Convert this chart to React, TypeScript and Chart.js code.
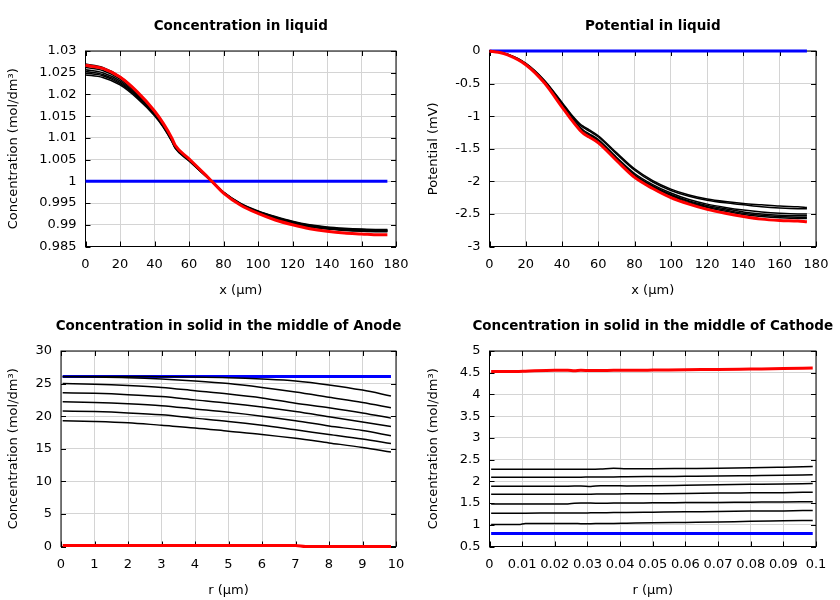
import React, { useEffect, useRef } from 'react';
import { Chart, registerables } from 'chart.js';

Chart.register(...registerables);
Chart.defaults.font.family = "'DejaVu Sans', sans-serif";
Chart.defaults.font.size = 13;
Chart.defaults.color = '#000';

// ---------- Concentration in liquid ----------
const liqX = [0, 10, 20, 30, 40, 45, 50, 52, 60, 70, 75, 80, 90, 100, 110, 120, 130, 140, 150, 160, 170, 175];
const liqCInit = [1, 1, 1, 1, 1, 1, 1, 1, 1, 1, 1, 1, 1, 1, 1, 1, 1, 1, 1, 1, 1, 1];
const liqCFinal = [1.0267, 1.026, 1.024, 1.0206, 1.0162, 1.0134, 1.01, 1.0083, 1.0052, 1.0013, 0.9993, 0.9973, 0.9945, 0.9926, 0.9911, 0.99, 0.9891, 0.9885, 0.9881, 0.9879, 0.9877, 0.9877];
const liqC1 = [1.027, 1.0262, 1.0241, 1.0206, 1.0161, 1.0133, 1.0098, 1.0081, 1.005, 1.0011, 0.9992, 0.9973, 0.9946, 0.9928, 0.9914, 0.9903, 0.9895, 0.989, 0.9887, 0.9885, 0.9884, 0.9884];
const liqC2 = [1.0262, 1.0255, 1.0235, 1.0201, 1.0158, 1.013, 1.0096, 1.008, 1.0049, 1.0011, 0.9992, 0.9973, 0.9947, 0.9929, 0.9915, 0.9904, 0.9896, 0.9891, 0.9888, 0.9886, 0.9885, 0.9885];
const liqC3 = [1.0257, 1.025, 1.0231, 1.0198, 1.0156, 1.0129, 1.0095, 1.0079, 1.0049, 1.0011, 0.9992, 0.9974, 0.9947, 0.9929, 0.9916, 0.9905, 0.9897, 0.9892, 0.9889, 0.9887, 0.9886, 0.9886];
const liqC4 = [1.0253, 1.0246, 1.0228, 1.0196, 1.0154, 1.0127, 1.0094, 1.0078, 1.0048, 1.0011, 0.9992, 0.9974, 0.9948, 0.993, 0.9917, 0.9906, 0.9898, 0.9893, 0.989, 0.9888, 0.9887, 0.9887];
const liqC5 = [1.0249, 1.0243, 1.0225, 1.0194, 1.0153, 1.0126, 1.0093, 1.0077, 1.0048, 1.0011, 0.9993, 0.9975, 0.9948, 0.9931, 0.9918, 0.9907, 0.9899, 0.9894, 0.9891, 0.9889, 0.9888, 0.9888];
const liqC6 = [1.0245, 1.0239, 1.0222, 1.0191, 1.0151, 1.0125, 1.0092, 1.0076, 1.0047, 1.0011, 0.9993, 0.9975, 0.9949, 0.9932, 0.9919, 0.9908, 0.99, 0.9895, 0.9892, 0.989, 0.9889, 0.9889];

// ---------- Potential in liquid ----------
const potX = [0, 5, 10, 20, 30, 40, 45, 50, 52, 55, 60, 70, 80, 90, 100, 110, 120, 130, 140, 150, 160, 170, 175];
const potInit = [0, 0, 0, 0, 0, 0, 0, 0, 0, 0, 0, 0, 0, 0, 0, 0, 0, 0, 0, 0, 0, 0, 0];
const potFinal = [0, -0.02, -0.06, -0.21, -0.48, -0.86, -1.05, -1.22, -1.27, -1.32, -1.41, -1.68, -1.94, -2.11, -2.25, -2.35, -2.43, -2.49, -2.54, -2.58, -2.6, -2.61, -2.62];
const pot1 = [0, -0.02, -0.05, -0.19, -0.44, -0.79, -0.97, -1.12, -1.16, -1.21, -1.3, -1.56, -1.81, -1.99, -2.12, -2.21, -2.27, -2.31, -2.34, -2.36, -2.38, -2.39, -2.4];
const pot2 = [0, -0.02, -0.05, -0.19, -0.45, -0.8, -0.98, -1.14, -1.18, -1.23, -1.32, -1.58, -1.83, -2.01, -2.14, -2.23, -2.29, -2.33, -2.36, -2.39, -2.41, -2.42, -2.42];
const pot3 = [0, -0.02, -0.055, -0.2, -0.46, -0.82, -1.01, -1.17, -1.22, -1.27, -1.36, -1.63, -1.88, -2.05, -2.18, -2.28, -2.35, -2.4, -2.44, -2.47, -2.49, -2.5, -2.5];
const pot4 = [0, -0.02, -0.055, -0.2, -0.47, -0.83, -1.02, -1.19, -1.24, -1.29, -1.38, -1.65, -1.9, -2.07, -2.2, -2.3, -2.37, -2.42, -2.47, -2.5, -2.52, -2.53, -2.53];
const pot5 = [0, -0.02, -0.06, -0.21, -0.47, -0.84, -1.03, -1.2, -1.25, -1.3, -1.39, -1.66, -1.91, -2.08, -2.21, -2.31, -2.39, -2.44, -2.49, -2.52, -2.54, -2.55, -2.55];
const pot6 = [0, -0.02, -0.06, -0.21, -0.48, -0.85, -1.04, -1.21, -1.26, -1.31, -1.4, -1.67, -1.92, -2.09, -2.22, -2.33, -2.4, -2.46, -2.51, -2.54, -2.56, -2.57, -2.57];

// ---------- Concentration in solid, anode ----------
const anR = [0.05, 1, 2, 3, 4, 5, 6, 7, 8, 9, 9.85];
const anInit = [26.1, 26.1, 26.1, 26.1, 26.1, 26.1, 26.1, 26.1, 26.1, 26.1, 26.1];
const anFinalR = [0.05, 7.0, 7.3, 9.85];
const anFinal = [0.15, 0.15, 0.0, 0.0];
const an1 = [26.1, 26.1, 26.1, 26.05, 26.0, 25.9, 25.7, 25.4, 24.8, 24.0, 23.1];
const an2 = [26.05, 26.0, 25.9, 25.7, 25.4, 25.0, 24.4, 23.7, 22.9, 22.1, 21.3];
const an3 = [25.0, 24.9, 24.7, 24.4, 23.9, 23.4, 22.8, 22.0, 21.3, 20.5, 19.7];
const an4 = [23.6, 23.5, 23.3, 23.0, 22.5, 22.0, 21.4, 20.7, 19.9, 19.1, 18.4];
const an5 = [22.2, 22.1, 21.9, 21.6, 21.1, 20.6, 20.0, 19.3, 18.5, 17.8, 17.0];
const an6 = [20.8, 20.7, 20.5, 20.2, 19.7, 19.2, 18.6, 17.9, 17.2, 16.5, 15.8];
const an7 = [19.3, 19.2, 19.0, 18.6, 18.2, 17.7, 17.2, 16.6, 15.9, 15.2, 14.5];

// ---------- Concentration in solid, cathode ----------
const caR = [0.0005, 0.009, 0.011, 0.02, 0.024, 0.026, 0.028, 0.031, 0.034, 0.038, 0.042, 0.05, 0.06, 0.07, 0.08, 0.09, 0.099];
const caInit = [0.8, 0.8, 0.8, 0.8, 0.8, 0.8, 0.8, 0.8, 0.8, 0.8, 0.8, 0.8, 0.8, 0.8, 0.8, 0.8, 0.8];
const caFinal = [4.53, 4.53, 4.535, 4.555, 4.555, 4.545, 4.555, 4.55, 4.55, 4.555, 4.555, 4.56, 4.57, 4.575, 4.585, 4.595, 4.61];
const ca1 = [2.28, 2.28, 2.28, 2.28, 2.28, 2.28, 2.28, 2.28, 2.285, 2.3, 2.29, 2.29, 2.295, 2.3, 2.31, 2.325, 2.34];
const ca2 = [2.095, 2.095, 2.095, 2.095, 2.095, 2.095, 2.095, 2.1, 2.1, 2.1, 2.105, 2.11, 2.115, 2.12, 2.13, 2.14, 2.15];
const ca3 = [1.888, 1.888, 1.888, 1.888, 1.888, 1.89, 1.895, 1.88, 1.9, 1.9, 1.895, 1.9, 1.91, 1.92, 1.93, 1.94, 1.95];
const ca4 = [1.704, 1.704, 1.704, 1.704, 1.704, 1.704, 1.705, 1.705, 1.708, 1.71, 1.712, 1.715, 1.72, 1.73, 1.735, 1.74, 1.75];
const ca5 = [1.48, 1.48, 1.48, 1.48, 1.48, 1.495, 1.5, 1.5, 1.495, 1.5, 1.5, 1.505, 1.51, 1.515, 1.52, 1.525, 1.53];
const ca6 = [1.267, 1.267, 1.267, 1.27, 1.27, 1.27, 1.272, 1.274, 1.276, 1.28, 1.282, 1.29, 1.3, 1.305, 1.315, 1.32, 1.33];
const ca7 = [1.006, 1.006, 1.03, 1.03, 1.03, 1.03, 1.025, 1.025, 1.03, 1.03, 1.035, 1.045, 1.055, 1.065, 1.08, 1.09, 1.1];

const RED = '#ff0000';
const BLUE = '#0000ff';
const BLACK = '#000000';

type Series = { x: number[]; y: number[]; color: string; width: number };

type PanelProps = {
  left: number;
  top: number;
  title: string;
  xTitle: string;
  yTitle: string;
  xMin: number;
  xMax: number;
  xStep: number;
  yMin: number;
  yMax: number;
  yStep: number;
  plotLeft: number;
  series: Series[];
};

const W = 420;
const H = 300;
const PLOT_TOP = 51;
const PLOT_RIGHT = 396;
const PLOT_BOTTOM = 246.5;
const TITLE_Y = 26;

const fmt = (v: number | string) => {
  const n = typeof v === 'string' ? parseFloat(v) : v;
  const r = Math.round(n * 100000) / 100000;
  return String(r === 0 ? 0 : r);
};

const framePlugin = {
  id: 'gnuFrame',
  beforeDatasetsDraw(chart: any) {
    const { ctx, chartArea } = chart;
    const { left, right, top, bottom } = chartArea;
    const tl = 5;
    ctx.save();
    ctx.strokeStyle = '#000';
    ctx.lineWidth = 1;
    ctx.strokeRect(left, top, right - left, bottom - top);
    ctx.beginPath();
    const xs = chart.scales.x;
    xs.ticks.forEach((t: any) => {
      const px = Math.round(xs.getPixelForValue(t.value)) + 0.5;
      ctx.moveTo(px, bottom);
      ctx.lineTo(px, bottom - tl);
      ctx.moveTo(px, top);
      ctx.lineTo(px, top + tl);
    });
    const ys = chart.scales.y;
    ys.ticks.forEach((t: any) => {
      const py = Math.round(ys.getPixelForValue(t.value)) + 0.5;
      ctx.moveTo(left, py);
      ctx.lineTo(left + tl, py);
      ctx.moveTo(right, py);
      ctx.lineTo(right - tl, py);
    });
    ctx.stroke();
    ctx.restore();
  },
};

// Title centred over the plot area, without width compression
const titlePlugin = {
  id: 'plotTitle',
  afterDraw(chart: any, _args: any, opts: any) {
    const { ctx, chartArea } = chart;
    ctx.save();
    ctx.font = "bold 13.5px 'DejaVu Sans', sans-serif";
    ctx.fillStyle = '#000';
    ctx.textAlign = 'center';
    ctx.textBaseline = 'middle';
    ctx.fillText(opts.text, (chartArea.left + chartArea.right) / 2, TITLE_Y);
    ctx.restore();
  },
};

function Panel(p: PanelProps) {
  const ref = useRef<HTMLCanvasElement>(null);
  useEffect(() => {
    if (!ref.current) return;
    const chart = new Chart(ref.current, {
      type: 'line',
      data: {
        datasets: p.series.map((s) => ({
          data: s.x.map((x, i) => ({ x, y: s.y[i] })),
          borderColor: s.color,
          backgroundColor: s.color,
          borderWidth: s.width,
          pointRadius: 0,
          pointHoverRadius: 0,
          fill: false,
          cubicInterpolationMode: 'monotone' as const,
          clip: false as any,
        })),
      },
      options: {
        responsive: false,
        animation: false,
        events: [],
        layout: { padding: { left: 0, right: W - PLOT_RIGHT, top: PLOT_TOP, bottom: 0 } },
        plugins: {
          legend: { display: false },
          tooltip: { enabled: false },
          title: { display: false },
          plotTitle: { text: p.title },
        } as any,
        scales: {
          x: {
            type: 'linear',
            min: p.xMin,
            max: p.xMax,
            afterFit: (s: any) => {
              s.height = H - PLOT_BOTTOM;
            },
            ticks: {
              stepSize: p.xStep,
              padding: 10,
              maxRotation: 0,
              autoSkip: false,
              color: '#000',
              callback: (v: any) => fmt(v),
            },
            grid: { color: '#d4d4d4', drawTicks: false, lineWidth: 1 },
            border: { display: false },
            title: { display: true, text: p.xTitle, color: '#000', padding: { top: 0, bottom: 2 } },
          },
          y: {
            type: 'linear',
            min: p.yMin,
            max: p.yMax,
            afterFit: (s: any) => {
              s.width = p.plotLeft;
            },
            ticks: {
              stepSize: p.yStep,
              padding: 9,
              autoSkip: false,
              color: '#000',
              callback: (v: any) => fmt(v),
            },
            grid: { color: '#d4d4d4', drawTicks: false, lineWidth: 1 },
            border: { display: false },
            title: { display: true, text: p.yTitle, color: '#000', padding: { top: 5.5, bottom: 0 } },
          },
        },
      },
      plugins: [framePlugin, titlePlugin],
    });
    return () => chart.destroy();
  }, []);
  return (
    <div style={{ position: 'absolute', left: p.left, top: p.top, width: W, height: H }}>
      <canvas ref={ref} width={W} height={H} style={{ display: 'block', width: W, height: H }} />
    </div>
  );
}

const blk = (x: number[], y: number[]): Series => ({ x, y, color: BLACK, width: 1.5 });

export default function App() {
  const liqSeries: Series[] = [
    { x: liqX, y: liqCFinal, color: RED, width: 3 },
    blk(liqX, liqC1),
    blk(liqX, liqC2),
    blk(liqX, liqC3),
    blk(liqX, liqC4),
    blk(liqX, liqC5),
    blk(liqX, liqC6),
    { x: liqX, y: liqCInit, color: BLUE, width: 3 },
  ];
  const potSeries: Series[] = [
    { x: potX, y: potFinal, color: RED, width: 3 },
    blk(potX, pot1),
    blk(potX, pot2),
    blk(potX, pot3),
    blk(potX, pot4),
    blk(potX, pot5),
    blk(potX, pot6),
    { x: potX, y: potInit, color: BLUE, width: 3 },
  ];
  const anSeries: Series[] = [
    { x: anFinalR, y: anFinal, color: RED, width: 3 },
    blk(anR, an1),
    blk(anR, an2),
    blk(anR, an3),
    blk(anR, an4),
    blk(anR, an5),
    blk(anR, an6),
    blk(anR, an7),
    { x: anR, y: anInit, color: BLUE, width: 3 },
  ];
  const caSeries: Series[] = [
    { x: caR, y: caFinal, color: RED, width: 3 },
    blk(caR, ca1),
    blk(caR, ca2),
    blk(caR, ca3),
    blk(caR, ca4),
    blk(caR, ca5),
    blk(caR, ca6),
    blk(caR, ca7),
    { x: caR, y: caInit, color: BLUE, width: 3 },
  ];
  return (
    <div style={{ position: 'absolute', left: 0, top: 0, width: 840, height: 600, background: '#fff', overflow: 'hidden' }}>
      <Panel left={0} top={0} title="Concentration in liquid" xTitle="x (μm)" yTitle="Concentration (mol/dm³)"
        xMin={0} xMax={180} xStep={20} yMin={0.985} yMax={1.03} yStep={0.005} plotLeft={85.5} series={liqSeries} />
      <Panel left={420} top={0} title="Potential in liquid" xTitle="x (μm)" yTitle="Potential (mV)"
        xMin={0} xMax={180} xStep={20} yMin={-3} yMax={0} yStep={0.5} plotLeft={69.5} series={potSeries} />
      <Panel left={0} top={300} title="Concentration in solid in the middle of Anode" xTitle="r (μm)" yTitle="Concentration (mol/dm³)"
        xMin={0} xMax={10} xStep={1} yMin={0} yMax={30} yStep={5} plotLeft={61} series={anSeries} />
      <Panel left={420} top={300} title="Concentration in solid in the middle of Cathode" xTitle="r (μm)" yTitle="Concentration (mol/dm³)"
        xMin={0} xMax={0.1} xStep={0.01} yMin={0.5} yMax={5} yStep={0.5} plotLeft={69.5} series={caSeries} />
    </div>
  );
}
